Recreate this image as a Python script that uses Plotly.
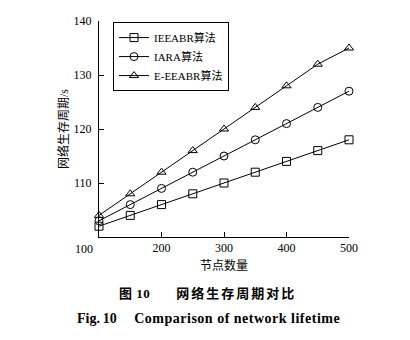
import plotly.graph_objects as go

# Number of sensor nodes
nodes = [100, 150, 200, 250, 300, 350, 400, 450, 500]

# Network lifetime (s) per routing algorithm
ieeabr = [102, 104, 106, 108, 110, 112, 114, 116, 118]
iara = [103, 106, 109, 112, 115, 118, 121, 124, 127]
e_eeabr = [104, 108, 112, 116, 120, 124, 128, 132, 135]

series_names = ["IEEABR算法", "IARA算法", "E-EEABR算法"]
series_values = [ieeabr, iara, e_eeabr]
series_symbols = ["square-open", "circle-open", "triangle-up-open"]

x_ticks = [200, 300, 400, 500]
y_ticks = [110, 120, 130, 140]

FONT = "Liberation Serif, Times New Roman, Noto Sans CJK SC, serif"

fig = go.Figure()
for name, vals, sym in zip(series_names, series_values, series_symbols):
    fig.add_trace(go.Scatter(
        x=nodes, y=vals, name=name, mode="lines+markers",
        line=dict(color="black", width=1),
        marker=dict(symbol=sym, size=8, color="black", line=dict(width=1, color="black")),
        cliponaxis=False,
    ))

fig.update_layout(
    width=410, height=340,
    margin=dict(l=99, r=61, t=21, b=103),
    paper_bgcolor="white", plot_bgcolor="white",
    font=dict(family=FONT, size=12, color="black"),
    showlegend=True,
    legend=dict(
        x=0.056, y=0.995, xanchor="left", yanchor="top",
        bordercolor="black", borderwidth=1, bgcolor="white",
        font=dict(family=FONT, size=11),
        itemwidth=30, tracegroupgap=0,
    ),
    xaxis=dict(
        range=[100, 500], tickvals=x_ticks, ticks="inside", ticklen=5,
        showline=True, linecolor="black", linewidth=1, tickcolor="black",
        showgrid=False, zeroline=False, mirror=False,
        tickfont=dict(family=FONT, size=12),
    ),
    yaxis=dict(
        range=[100, 140], tickvals=y_ticks, ticks="inside", ticklen=5,
        showline=True, linecolor="black", linewidth=1, tickcolor="black",
        showgrid=False, zeroline=False, mirror=False, ticklabelstandoff=4,
        tickfont=dict(family=FONT, size=12),
    ),
    annotations=[
        # shared origin label
        dict(text="100", x=100, y=100, xref="x", yref="y", showarrow=False,
             xanchor="center", yanchor="middle", xshift=-15, yshift=-12,
             font=dict(family=FONT, size=12)),
        dict(text="节点数量", x=0.5, y=0, xref="paper", yref="paper", showarrow=False,
             xanchor="center", yanchor="middle", yshift=-28,
             font=dict(family=FONT, size=12)),
        dict(text="网络生存周期/s", x=0, y=0.5, xref="paper", yref="paper", showarrow=False,
             xanchor="center", yanchor="middle", xshift=-36, textangle=-90,
             font=dict(family=FONT, size=12)),
        dict(text=("<span style='letter-spacing:0.5px'><b>图 10</b></span>\u2003\u2003"
                   "<span style='letter-spacing:2px'><b>网络生存周期对比</b></span>"),
             x=(207 - 99) / 250, y=0, xref="paper", yref="paper",
             showarrow=False, xanchor="center", yanchor="middle", yshift=-56,
             font=dict(family="Liberation Serif, Noto Sans CJK SC", size=13)),
        dict(text=("<b>Fig.\u200910</b>\u2003 "
                   "<span style='letter-spacing:0.5px'><b>Comparison of network lifetime</b></span>"),
             x=(208 - 99) / 250, y=0, xref="paper", yref="paper",
             showarrow=False, xanchor="center", yanchor="middle", yshift=-81,
             font=dict(family=FONT, size=14)),
    ],
)

fig.write_html("out.html")
